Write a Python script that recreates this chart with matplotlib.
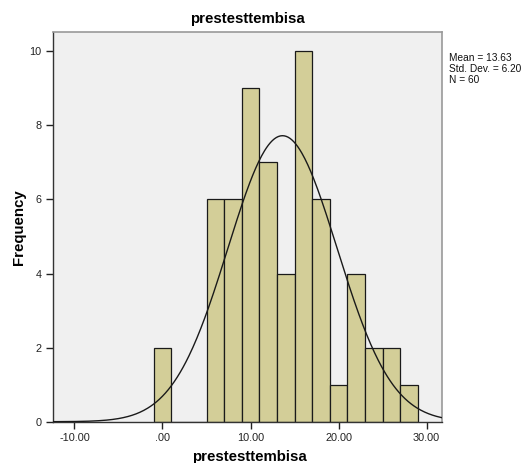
import numpy as np
import matplotlib
matplotlib.use("Agg")
import matplotlib.pyplot as plt

bin_edges = [-1, 1, 3, 5, 7, 9, 11, 13, 15, 17, 19, 21, 23, 25, 27, 29]
counts = [2, 0, 0, 6, 6, 9, 7, 4, 10, 6, 1, 4, 2, 2, 1]
mean, sd, n = 13.63, 6.20, 60
xticks = [-10, 0, 10, 20, 30]
xticklabels = ["-10.00", ".00", "10.00", "20.00", "30.00"]
yticks = [0, 2, 4, 6, 8, 10]

plt.rcParams['font.family'] = ['Liberation Sans', 'DejaVu Sans']

fig = plt.figure(figsize=(5.28, 4.63), dpi=100)
ax = fig.add_axes([0.101, 0.0892, 0.737, 0.8424])
ax.set_facecolor('#F0F0F0')

lefts = np.array(bin_edges[:-1])
widths = np.diff(bin_edges)
ax.bar(lefts, counts, width=widths, align='edge', color='#D3CE98',
       edgecolor='#1a1a1a', linewidth=0.9, zorder=2)

xs = np.linspace(-12.5, 32, 400)
bw = 2.0
ys = n * bw / (sd * np.sqrt(2 * np.pi)) * np.exp(-0.5 * ((xs - mean) / sd) ** 2)
ax.plot(xs, ys, color='#1a1a1a', linewidth=1.0, zorder=3)

ax.set_xlim(-12.4, 31.8)
ax.set_ylim(0, 10.53)
ax.set_xticks(xticks)
ax.set_xticklabels(xticklabels)
ax.set_yticks(yticks)
ax.tick_params(axis='both', direction='out', length=5, width=1, colors='#222222', labelsize=7.8)
ax.tick_params(axis='x', pad=3)

for s in ['top', 'right']:
    ax.spines[s].set_color('#999999')
    ax.spines[s].set_linewidth(1.2)
for s in ['left', 'bottom']:
    ax.spines[s].set_color('#333333')
    ax.spines[s].set_linewidth(1.0)

ax.set_title('prestesttembisa', fontsize=10.8, fontweight='bold', pad=6)
fig.text(249 / 528, 2 / 463, 'prestesttembisa', fontsize=10.8, fontweight='bold',
         ha='center', va='baseline')
fig.text(19 / 528, (463 - 227) / 463, 'Frequency', fontsize=10.8, fontweight='bold',
         ha='center', va='center', rotation=90)

fig.text(0.850, 0.885, "Mean = %.2f\nStd. Dev. = %.2f\nN = %d" % (mean, sd, n),
         fontsize=7.3, va='top', ha='left', linespacing=1.08, color='#111111')

fig.savefig('out.png', dpi=100)
